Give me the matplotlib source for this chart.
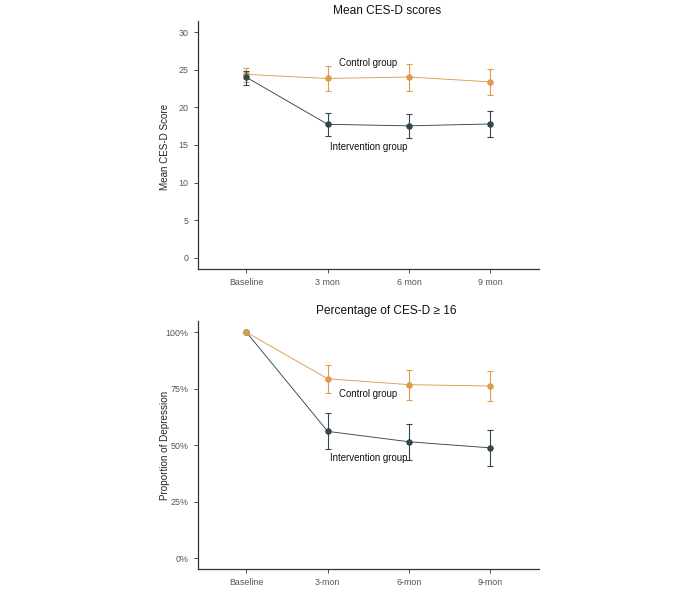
import matplotlib
matplotlib.use("Agg")
import matplotlib.pyplot as plt
from matplotlib.ticker import FuncFormatter

plt.rcParams['font.family'] = ['Liberation Sans', 'DejaVu Sans']

# Data
timepoints_top = ["Baseline", "3 mon", "6 mon", "9 mon"]
timepoints_bot = ["Baseline", "3-mon", "6-mon", "9-mon"]

cesd_control = [24.4, 23.85, 24.05, 23.4]
cesd_control_lo = [23.4, 22.2, 22.2, 21.6]
cesd_control_hi = [25.3, 25.45, 25.8, 25.15]
cesd_interv = [24.0, 17.75, 17.55, 17.8]
cesd_interv_lo = [23.0, 16.2, 15.9, 16.05]
cesd_interv_hi = [24.9, 19.2, 19.1, 19.5]

pct_control = [100, 79.4, 76.8, 76.2]
pct_control_lo = [None, 72.9, 69.8, 69.4]
pct_control_hi = [None, 85.6, 83.4, 82.9]
pct_interv = [100, 56.1, 51.5, 48.8]
pct_interv_lo = [None, 48.2, 43.3, 40.6]
pct_interv_hi = [None, 64.1, 59.3, 56.5]

c_ctrl = "#DE9B4E"
c_int = "#33474F"

fig = plt.figure(figsize=(7, 6), dpi=100)
fig.patch.set_facecolor("white")

ax1 = fig.add_axes([197.7/700, 1-269/600, (539-197.7)/700, (269-21)/600])
ax2 = fig.add_axes([197.7/700, 1-569.3/600, (539-197.7)/700, (569.3-321)/600])

TICK_FS = 6.4
LAB_FS = 7.1
ANN_FS = 6.9
TITLE_FS = 8.6

def style(ax):
    for s in ["top", "right"]:
        ax.spines[s].set_visible(False)
    for s in ["left", "bottom"]:
        ax.spines[s].set_color("#333333")
        ax.spines[s].set_linewidth(0.9)
    ax.tick_params(axis="both", colors="#333333", labelcolor="#555555",
                   labelsize=TICK_FS, length=3, width=0.6)
    ax.set_xlim(-0.6, 3.6)

def draw(ax, x, y, lo, hi, color, z):
    ax.plot(x, y, color=color, lw=0.65, zorder=2 + z)
    yerr_x, yerr_lo, yerr_hi, ys = [], [], [], []
    for xi, yi, l, h in zip(x, y, lo, hi):
        if l is not None:
            yerr_x.append(xi)
            ys.append(yi)
            yerr_lo.append(yi - l)
            yerr_hi.append(h - yi)
    ax.errorbar(yerr_x, ys, yerr=[yerr_lo, yerr_hi], fmt="none",
                ecolor=color, elinewidth=0.8, capsize=2.5, capthick=0.8, zorder=3 + z)
    ax.scatter(x, y, s=22, color=color, zorder=4 + z, linewidths=0)

x = list(range(4))

# Top panel
style(ax1)
draw(ax1, x, cesd_control, cesd_control_lo, cesd_control_hi, c_ctrl, 0)
draw(ax1, x, cesd_interv, cesd_interv_lo, cesd_interv_hi, c_int, 3)
ax1.set_ylim(-1.5, 31.5)
ax1.set_yticks([0, 5, 10, 15, 20, 25, 30])
ax1.set_xticks(x)
ax1.set_xticklabels(timepoints_top)
ax1.text(1.5, 25.9, "Control group", ha="center", va="center", fontsize=ANN_FS, color="#111111")
ax1.text(1.5, 14.8, "Intervention group", ha="center", va="center", fontsize=ANN_FS, color="#111111")
fig.text(165/700, 1-146.7/600, "Mean CES-D Score", rotation=90, ha="center", va="center",
         fontsize=LAB_FS, color="#222222")
fig.text(386.7/700, 1-10.7/600, "Mean CES-D scores", ha="center", va="center",
         fontsize=TITLE_FS, color="#111111")

# Bottom panel
style(ax2)
draw(ax2, x, pct_interv, pct_interv_lo, pct_interv_hi, c_int, 0)
draw(ax2, x, pct_control, pct_control_lo, pct_control_hi, c_ctrl, 3)
ax2.set_ylim(-5, 105)
ax2.set_yticks([0, 25, 50, 75, 100])
ax2.yaxis.set_major_formatter(FuncFormatter(lambda v, p: f"{int(v)}%"))
ax2.set_xticks(x)
ax2.set_xticklabels(timepoints_bot)
ax2.text(1.5, 72.5, "Control group", ha="center", va="center", fontsize=ANN_FS, color="#111111")
ax2.text(1.5, 44.3, "Intervention group", ha="center", va="center", fontsize=ANN_FS, color="#111111")
fig.text(165/700, 1-(295+450/3)/600, "Proportion of Depression", rotation=90, ha="center",
         va="center", fontsize=LAB_FS, color="#222222")
fig.text(386.7/700, 1-310.7/600, "Percentage of CES-D \u2265 16", ha="center", va="center",
         fontsize=TITLE_FS, color="#111111")

fig.savefig("out.png", dpi=100)
